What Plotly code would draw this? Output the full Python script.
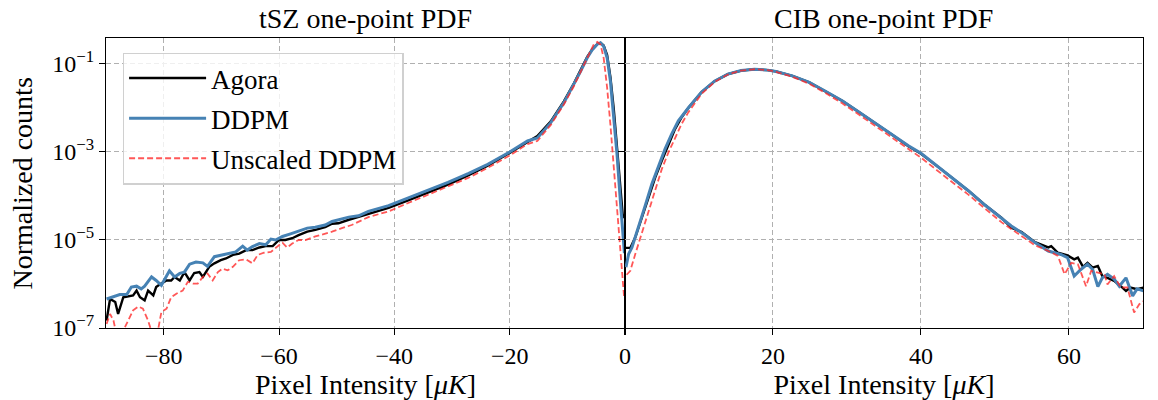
import numpy as np
import plotly.graph_objects as go

# ---------------- data (values are log10 of normalized counts) -------------
tsz_agora_x = [-89.9, -89.3, -88.4, -87.9, -87.0, -86.1, -85.3, -84.7, -84.1, -83.3, -82.7, -81.8, -81.3,
               -80.7, -79.5, -78.7, -78.1, -77.2, -76.4, -75.5, -74.7, -73.8, -73.2, -72.1, -71.2, -70.1,
               -69.2, -68.0, -66.9, -65.7, -64.6, -63.4, -62.3, -61.1, -60.0, -58.9, -57.7, -56.6, -55.1,
               -53.7, -52.0, -50.8, -49.7, -47.9, -44.5, -41.0, -37.6, -34.1, -30.7, -27.2, -23.8, -20.0,
               -16.9, -15.2, -12.9, -10.6, -8.85, -7.7, -6.55, -5.7, -4.8, -4.25, -3.7, -3.1, -2.53, -1.95,
               -1.38, -0.8, -0.4, -0.1]
tsz_agora_log10 = [-6.83, -6.34, -6.41, -6.68, -6.30, -6.28, -6.26, -6.15, -6.30, -6.37, -6.15, -6.26, -6.07,
                   -6.01, -5.92, -5.92, -5.84, -5.92, -5.73, -5.92, -5.75, -5.73, -5.84, -5.61, -5.53, -5.46,
                   -5.42, -5.34, -5.31, -5.23, -5.23, -5.17, -5.14, -5.14, -5.00, -5.00, -4.96, -4.89, -4.81,
                   -4.77, -4.71, -4.63, -4.62, -4.54, -4.40, -4.27, -4.10, -3.92, -3.74, -3.53, -3.31, -3.02,
                   -2.77, -2.64, -2.31, -1.85, -1.44, -1.14, -0.84, -0.67, -0.55, -0.52, -0.58, -0.80, -1.30,
                   -2.02, -2.85, -3.78, -4.42, -4.50]

tsz_ddpm_x = [-89.9, -88.7, -87.6, -86.4, -85.6, -84.7, -83.9, -83.3, -82.1, -81.3, -80.4, -79.0, -78.1,
              -77.2, -76.4, -75.5, -74.4, -73.2, -72.4, -71.2, -69.8, -68.3, -67.5, -66.3, -65.5, -64.6,
              -63.4, -62.3, -61.4, -60.6, -59.4, -58.0, -56.6, -55.1, -53.7, -52.0, -50.8, -49.7, -47.9,
              -46.2, -44.5, -41.0, -37.6, -34.1, -30.7, -27.2, -23.8, -20.0, -16.9, -15.2, -12.9, -10.6,
              -8.85, -7.7, -6.55, -5.7, -4.8, -4.25, -3.7, -3.1, -2.53, -1.95, -1.38, -0.8, -0.35, -0.1]
tsz_ddpm_log10 = [-6.34, -6.28, -6.24, -6.24, -6.07, -6.05, -6.11, -6.05, -5.84, -5.92, -6.03, -5.70, -5.84,
                  -5.76, -5.73, -5.55, -5.50, -5.52, -5.60, -5.38, -5.34, -5.31, -5.27, -5.14, -5.23, -5.15,
                  -5.08, -5.11, -4.98, -5.00, -4.92, -4.86, -4.79, -4.73, -4.71, -4.66, -4.58, -4.54, -4.48,
                  -4.45, -4.35, -4.22, -4.05, -3.87, -3.69, -3.49, -3.28, -3.00, -2.75, -2.68, -2.34, -1.88,
                  -1.47, -1.17, -0.86, -0.68, -0.55, -0.52, -0.60, -0.86, -1.39, -2.15, -3.06, -4.11, -4.79,
                  -5.30]

tsz_unscaled_x = [-89.9, -89.3, -88.7, -88.2, -87.3, -86.1, -85.3, -84.4, -83.6, -82.7, -81.8, -81.0, -80.4,
                  -79.5, -78.7, -77.8, -76.7, -75.8, -74.9, -74.1, -73.2, -72.4, -71.5, -70.6, -69.8, -68.9,
                  -68.0, -66.9, -65.7, -64.6, -63.7, -62.6, -61.4, -60.3, -59.4, -58.6, -57.7, -56.6, -55.4,
                  -53.7, -52.0, -50.8, -49.1, -47.4, -44.5, -41.0, -37.6, -34.1, -30.7, -27.2, -23.8, -20.0,
                  -16.9, -15.2, -12.9, -10.6, -8.85, -7.7, -6.55, -6.0, -5.4, -4.8, -4.25, -3.7, -3.1, -2.53,
                  -1.95, -1.38, -0.8, -0.4, -0.15]
tsz_unscaled_log10 = [-6.91, -6.68, -6.83, -7.14, -7.14, -6.83, -6.60, -6.51, -6.56, -6.83, -7.21, -7.06, -6.64,
                      -6.56, -6.30, -6.22, -6.15, -5.95, -5.99, -5.99, -5.84, -5.76, -5.92, -5.73, -5.65, -5.69,
                      -5.61, -5.46, -5.44, -5.53, -5.34, -5.29, -5.27, -5.15, -5.06, -5.17, -5.08, -5.00, -5.00,
                      -4.92, -4.86, -4.81, -4.73, -4.66, -4.48, -4.35, -4.16, -3.97, -3.79, -3.59, -3.36, -3.08,
                      -2.82, -2.75, -2.39, -1.92, -1.50, -1.18, -0.85, -0.72, -0.55, -0.50, -0.56, -0.86, -1.54,
                      -2.38, -3.36, -4.34, -5.32, -6.08, -6.31]

cib_agora_x = [0.04, 0.72, 1.39, 2.28, 3.18, 4.08, 4.97, 5.87, 6.76, 7.66, 8.55, 10.35, 12.1, 13.9, 15.7,
               17.5, 19.3, 20.4, 22.6, 24.9, 27.1, 29.4, 31.6, 33.9, 36.1, 38.3, 40.0, 42.8, 44.6, 46.4,
               48.6, 50.9, 52.2, 53.6, 55.4, 57.2, 57.6, 58.5, 59.8, 60.7, 61.2, 61.9, 62.5, 63.2, 63.9,
               64.5, 65.2, 66.1, 67.0, 67.7, 68.3, 69.2, 70.1]
cib_agora_log10 = [-5.18, -5.18, -4.94, -4.48, -4.03, -3.58, -3.20, -2.82, -2.48, -2.21, -2.00, -1.64, -1.39,
                   -1.23, -1.15, -1.12, -1.14, -1.17, -1.27, -1.42, -1.62, -1.84, -2.09, -2.35, -2.61, -2.87,
                   -3.04, -3.40, -3.63, -3.88, -4.20, -4.50, -4.72, -4.82, -5.05, -5.17, -5.14, -5.29, -5.35,
                   -5.44, -5.40, -5.61, -5.52, -5.63, -5.59, -5.82, -5.86, -5.93, -6.05, -6.16, -6.08, -6.12,
                   -6.08]

cib_ddpm_x = [0.13, 0.49, 0.94, 1.84, 2.73, 3.63, 4.52, 5.42, 6.32, 7.21, 8.55, 10.35, 12.1, 13.9, 15.7,
              17.5, 19.3, 20.4, 22.6, 24.9, 27.1, 29.4, 31.6, 33.9, 36.1, 38.3, 40.0, 42.8, 44.6, 46.4,
              48.6, 50.9, 52.2, 54.0, 55.4, 57.2, 58.9, 59.8, 60.7, 61.6, 62.5, 63.2, 63.9, 64.5, 65.2,
              66.1, 66.8, 67.7, 68.6, 69.2, 70.1]
cib_ddpm_log10 = [-5.62, -5.32, -5.17, -4.71, -4.22, -3.73, -3.31, -2.93, -2.59, -2.29, -2.00, -1.64, -1.39,
                  -1.23, -1.15, -1.12, -1.14, -1.17, -1.27, -1.42, -1.62, -1.84, -2.09, -2.35, -2.60, -2.86,
                  -3.03, -3.40, -3.63, -3.88, -4.20, -4.52, -4.68, -4.88, -5.06, -5.25, -5.33, -5.40, -5.82,
                  -5.67, -5.55, -5.67, -6.06, -5.86, -5.78, -5.89, -6.05, -5.86, -6.27, -6.11, -6.16]

cib_unscaled_x = [0.22, 0.72, 1.39, 2.28, 3.18, 4.08, 4.97, 5.87, 6.76, 7.66, 8.55, 10.35, 12.1, 13.9, 15.7,
                  17.5, 19.3, 20.4, 22.6, 24.9, 27.1, 29.4, 31.6, 33.9, 36.1, 38.3, 40.0, 42.8, 46.4, 50.9,
                  55.4, 57.2, 58.5, 59.4, 60.3, 61.2, 62.3, 63.0, 63.9, 64.8, 65.2, 66.1, 67.0, 67.9, 68.8,
                  69.5, 70.1]
cib_unscaled_log10 = [-5.79, -5.70, -5.32, -4.83, -4.33, -3.84, -3.39, -3.01, -2.67, -2.36, -2.10, -1.68, -1.41,
                      -1.24, -1.15, -1.12, -1.14, -1.18, -1.29, -1.45, -1.66, -1.90, -2.15, -2.42, -2.68, -2.95,
                      -3.13, -3.50, -3.97, -4.60, -5.12, -5.25, -5.36, -5.78, -5.52, -5.55, -6.05, -5.70, -5.74,
                      -5.78, -6.01, -5.82, -6.08, -6.08, -6.65, -6.46, -6.39]

series_names = ["Agora", "DDPM", "Unscaled DDPM"]
panel_titles = ["tSZ one-point PDF", "CIB one-point PDF"]
y_title = "Normalized counts"
left_ticks = [-80, -60, -40, -20, 0]
left_ticktext = ["\u221280", "\u221260", "\u221240", "\u221220", "0"]
right_ticks = [0, 20, 40, 60]
right_ticktext = ["", "20", "40", "60"]
y_ticks = [1e-7, 1e-5, 1e-3, 1e-1]
y_ticktext = ["10<sup>\u22127</sup>", "10<sup>\u22125</sup>", "10<sup>\u22123</sup>", "10<sup>\u22121</sup>"]

# ---------------- styles -------------
FONT = "Liberation Serif"
styles = [
    dict(color="black", width=2.4),
    dict(color="#4682b4", width=3.0),
    dict(color="rgba(255,40,40,0.78)", width=1.8, dash="6px,3px"),
]

fig = go.Figure()

panels = [
    ("x", "y", [(tsz_agora_x, tsz_agora_log10), (tsz_ddpm_x, tsz_ddpm_log10), (tsz_unscaled_x, tsz_unscaled_log10)]),
    ("x2", "y2", [(cib_agora_x, cib_agora_log10), (cib_ddpm_x, cib_ddpm_log10), (cib_unscaled_x, cib_unscaled_log10)]),
]
for pi, (xa, ya, data) in enumerate(panels):
    for si, (xs, ls) in enumerate(data):
        fig.add_trace(go.Scatter(
            x=xs, y=10 ** np.array(ls), mode="lines", name=series_names[si],
            line=styles[si], xaxis=xa, yaxis=ya,
            legendgroup=series_names[si], showlegend=(pi == 0),
        ))

split = 522 / 1043
grid = dict(showgrid=True, gridcolor="#b0b0b0", gridwidth=1, griddash="5px,3px")
axline = dict(showline=True, linecolor="black", linewidth=1.3, mirror=True,
              ticks="outside", ticklen=6, tickwidth=1.2, tickcolor="black", zeroline=False)
tickfont = dict(family=FONT, size=24, color="black")
xtitle = dict(text="Pixel Intensity [<i>\u03bcK</i>]", font=dict(family=FONT, size=28, color="black"), standoff=2)

fig.update_layout(
    width=1158, height=400,
    margin=dict(l=106, r=9, t=38, b=72),
    paper_bgcolor="white", plot_bgcolor="white",
    showlegend=True,
    legend=dict(x=0.016, y=0.95, xanchor="left", yanchor="top",
                bgcolor="rgba(255,255,255,0.8)", bordercolor="#d0d0d0", borderwidth=1.5,
                font=dict(family=FONT, size=27, color="black"), tracegroupgap=2, itemwidth=77),
    xaxis=dict(domain=[0, split], range=[-90, 0], tickvals=left_ticks, ticktext=left_ticktext,
               tickfont=tickfont, title=xtitle, **grid, **axline),
    xaxis2=dict(domain=[split, 1], range=[0, 70], tickvals=right_ticks, ticktext=right_ticktext,
                tickfont=tickfont, title=xtitle, anchor="y2", **grid, **axline),
    yaxis=dict(type="log", range=[-7, -0.41], tickvals=y_ticks, ticktext=y_ticktext, tickfont=tickfont,
               anchor="x", **grid, **axline),
    yaxis2=dict(type="log", range=[-7, -0.41], tickvals=y_ticks, showticklabels=False, matches="y",
                anchor="x2", **grid, **axline),
)

# y-axis title placed at the same spot as in the reference
fig.add_annotation(text=y_title, xref="paper", yref="paper", x=(22 - 106) / 1043, y=0.5,
                   xanchor="center", yanchor="middle", textangle=-90, showarrow=False,
                   font=dict(family=FONT, size=28, color="black"))

for i, t in enumerate(panel_titles):
    fig.add_annotation(text=t, xref="paper", yref="paper", x=(split / 2 if i == 0 else (split + 1) / 2),
                       xanchor="center", y=1, yanchor="bottom", yshift=2, showarrow=False,
                       font=dict(family=FONT, size=28, color="black"))

fig.write_html("out.html")
